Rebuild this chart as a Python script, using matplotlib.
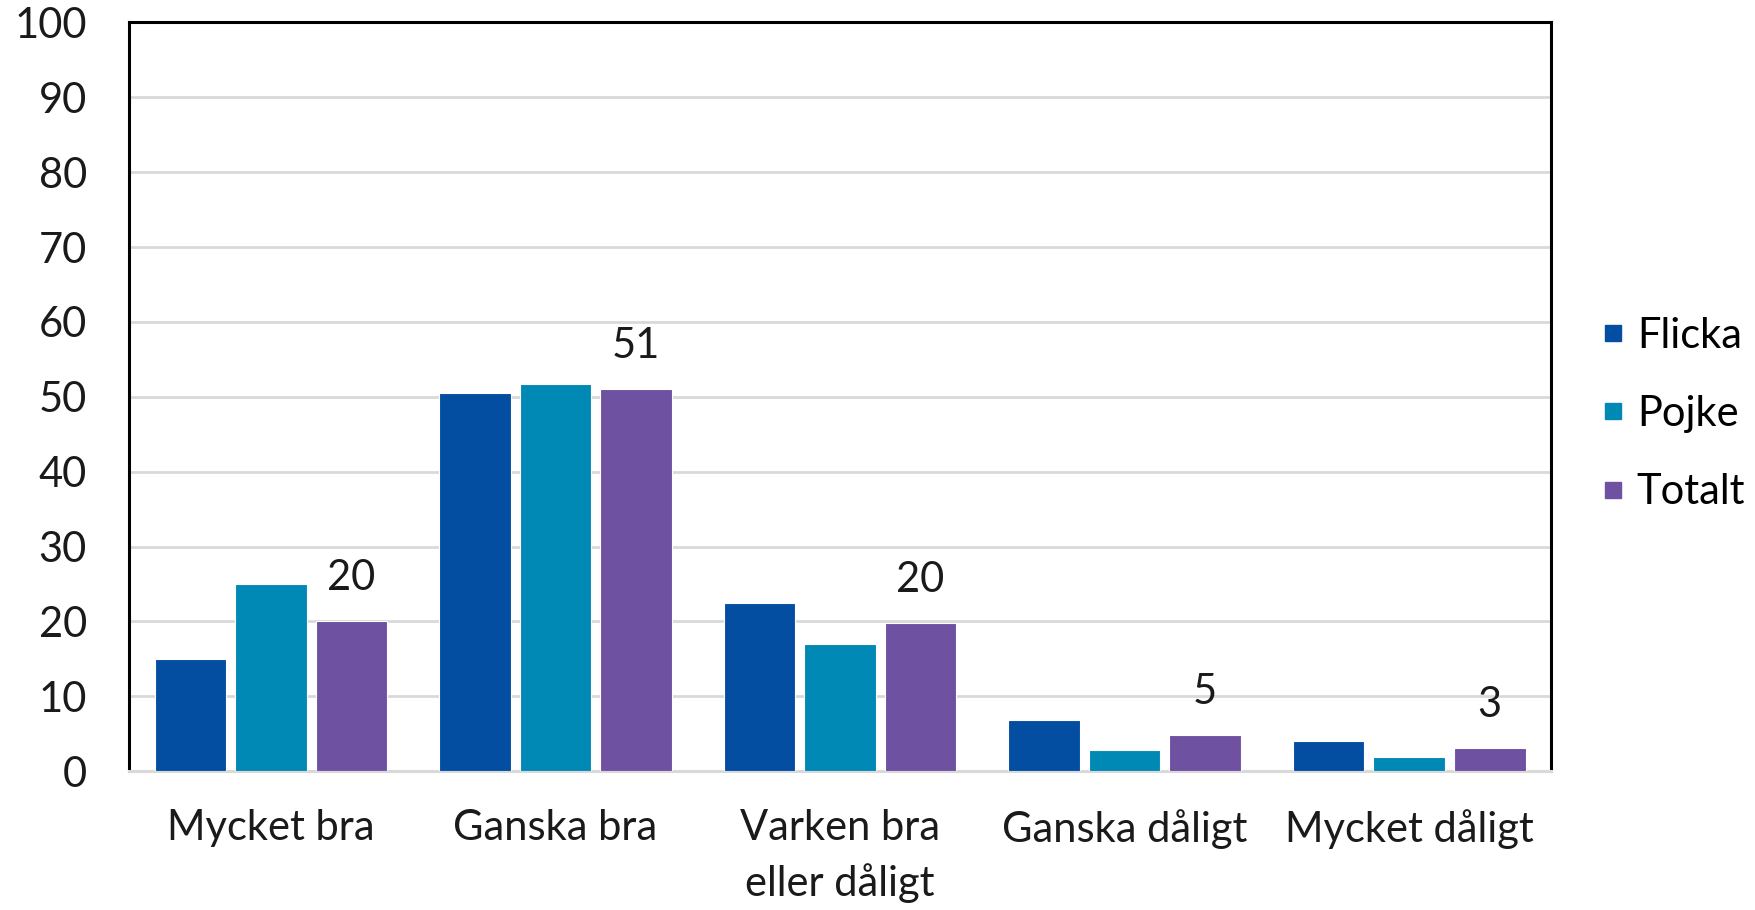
import matplotlib.pyplot as plt
from matplotlib.lines import Line2D

categories = ["Mycket bra", "Ganska bra", "Varken bra\neller dåligt", "Ganska dåligt", "Mycket dåligt"]
flicka = [15.0, 50.5, 22.4, 6.8, 4.1]
pojke = [25.0, 51.7, 17.0, 2.9, 1.9]
totalt = [20.0, 51.0, 19.8, 4.8, 3.1]
series = [("Flicka", flicka, "#044EA2"), ("Pojke", pojke, "#0089B5"), ("Totalt", totalt, "#6F51A1")]

plt.rcParams['font.family'] = ['Lato', 'DejaVu Sans']
fs = 30

fig = plt.figure(figsize=(17.55, 9.10), dpi=100)
ax = fig.add_axes([0.0733, 0.1525, 0.8107, 0.8229])

step = 0.283
width = 0.252
x = list(range(len(categories)))
for j, (name, vals, col) in enumerate(series):
    xs = [i + (j - 1) * step for i in x]
    ax.bar(xs, vals, width=width, color=col, edgecolor="white", linewidth=0.8, zorder=3)

# value labels only on Totalt
for i, v in enumerate(totalt):
    ax.annotate(f"{round(v)}", (i + step, v), xytext=(0, 31), textcoords="offset points",
                ha="center", va="center", fontsize=fs, color="#1a1a1a")

ax.set_xlim(-0.5, 4.5)
ax.set_ylim(0, 100)
ax.set_yticks(range(0, 101, 10))
ax.yaxis.grid(True, color="#d9d9d9", linewidth=2, zorder=0)
ax.set_axisbelow(True)
ax.set_xticks(x)
ax.set_xticklabels(categories, fontsize=fs, linespacing=1.5)
ax.tick_params(axis="y", labelsize=fs, length=0, pad=30)
ax.tick_params(axis="x", length=0, pad=27)
for lab in ax.get_yticklabels() + ax.get_xticklabels():
    lab.set_color("#1a1a1a")

for s in ["left", "top", "right"]:
    ax.spines[s].set_color("black")
    ax.spines[s].set_linewidth(2.2)
ax.spines["bottom"].set_color("#d9d9d9")
ax.spines["bottom"].set_linewidth(2.2)

handles = [Line2D([], [], marker="s", linestyle="none", markersize=12, color=c) for _, _, c in series]
fig.legend(handles, [n for n, _, _ in series], loc="center left", bbox_to_anchor=(0.907, 0.545),
           frameon=False, fontsize=fs, handletextpad=0.08, labelspacing=0.97,
           borderpad=0, handlelength=1.0, borderaxespad=0)

fig.savefig("out.png", dpi=100)
